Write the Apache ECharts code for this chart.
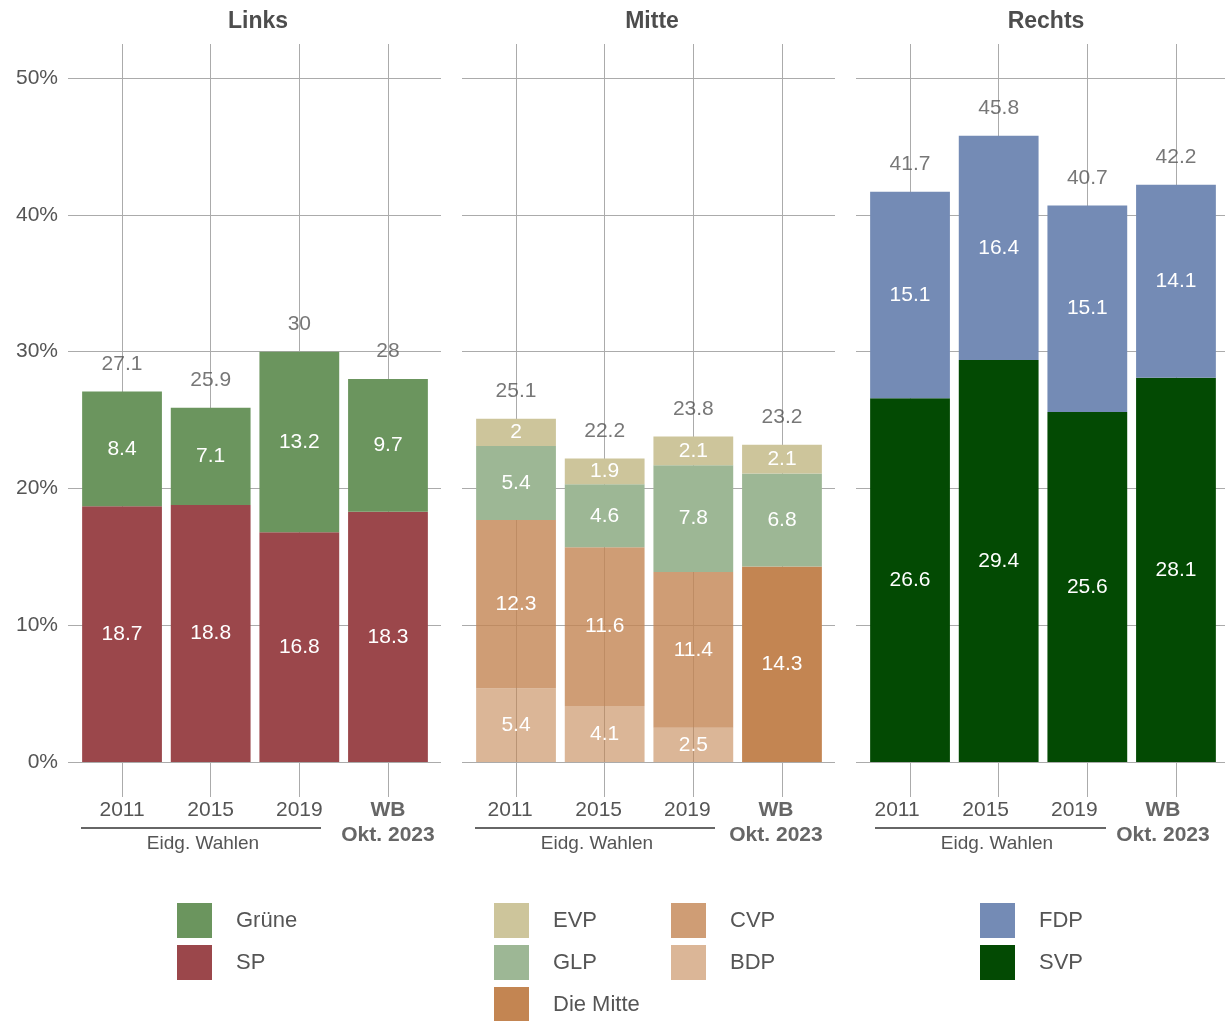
<!DOCTYPE html>
<html>
<head>
<meta charset="utf-8">
<script src="https://cdn.jsdelivr.net/npm/echarts@6/dist/echarts.min.js"></script>
<style>
html,body{margin:0;padding:0;background:#fff;}
#chart{width:1225px;height:1021px;}
</style>
</head>
<body>
<div id="chart"></div>
<script>
// ---- data ----
const categories = ['2011', '2015', '2019', 'WB\nOkt. 2023'];
const panelTitles = ['Links', 'Mitte', 'Rechts'];
const yTicks = [0, 10, 20, 30, 40, 50];

// Links
const sp     = [18.7, 18.8, 16.8, 18.3];
const gruene = [8.4, 7.1, 13.2, 9.7];
const totalLinks = [27.1, 25.9, 30, 28];

// Mitte
const bdp      = [5.4, 4.1, 2.5, '-'];
const cvp      = [12.3, 11.6, 11.4, '-'];
const dieMitte = ['-', '-', '-', 14.3];
const glp      = [5.4, 4.6, 7.8, 6.8];
const evp      = [2, 1.9, 2.1, 2.1];
const totalMitte = [25.1, 22.2, 23.8, 23.2];

// Rechts
const svp = [26.6, 29.4, 25.6, 28.1];
const fdp = [15.1, 16.4, 15.1, 14.1];
const totalRechts = [41.7, 45.8, 40.7, 42.2];

// ---- styling ----
const FONT = "'Liberation Sans', Arial, Helvetica, sans-serif";
const GRID_C = '#ababab';
const TXT = '#555555';
const colors = {
  'Grüne': '#6b955e',
  'SP': '#9b474b',
  'EVP': '#cdc59b',
  'GLP': '#9db795',
  'CVP': 'rgba(195,133,82,0.8)',
  'BDP': 'rgba(195,133,82,0.6)',
  'Die Mitte': '#c38552',
  'FDP': '#748bb5',
  'SVP': '#034a03'
};

const TOP = 44, BOTTOM = 1021 - 762;
const bgLefts = [68, 462, 856];
const bgWidth = 373;
const catOffsets = [0, 6, 13]; // label shift in reference

const grids = [], xAxes = [], yAxes = [], series = [], titles = [];

for (let p = 0; p < 3; p++) {
  grids.push({ left: bgLefts[p], width: bgWidth, top: 78, bottom: BOTTOM, containLabel: false, outerBoundsMode: 'none' });
  grids.push({ left: bgLefts[p] + 9.7, width: 354.6, top: TOP, bottom: BOTTOM, containLabel: false, outerBoundsMode: 'none' });
  const bg = p * 2, bar = p * 2 + 1;
  xAxes.push({ gridIndex: bg, type: 'category', data: categories, show: false });
  yAxes.push({
    gridIndex: bg, type: 'value', min: yTicks[0], max: yTicks[yTicks.length - 1], interval: 10,
    axisLine: { show: false }, axisTick: { show: false },
    splitLine: { show: true, lineStyle: { color: GRID_C, width: 1 } },
    axisLabel: {
      show: p === 0, formatter: '{value}%', color: TXT, fontSize: 21,
      fontFamily: FONT, margin: 10
    }
  });
  xAxes.push({
    gridIndex: bar, type: 'category', data: categories,
    axisLine: { show: false },
    axisTick: { show: true, interval: 0, alignWithLabel: true, length: 35, lineStyle: { color: GRID_C, width: 1 } },
    splitLine: { show: true, interval: 0, alignWithLabel: true, lineStyle: { color: GRID_C, width: 1 } },
    axisLabel: {
      interval: 0, margin: 36, color: TXT, fontFamily: FONT, fontSize: 21, lineHeight: 25,
      padding: [0, catOffsets[p] * 2, 0, 0],
      formatter: function (v) {
        if (v.indexOf('\n') >= 0) {
          return v.split('\n').map(s => '{b|' + s + '}').join('\n');
        }
        return v;
      },
      rich: { b: { fontWeight: 'bold', fontSize: 21, color: '#666666', fontFamily: FONT, lineHeight: 25 } }
    }
  });
  yAxes.push({ gridIndex: bar, type: 'value', min: 0, max: 52.5, show: false, splitLine: { show: false } });
  titles.push({
    text: panelTitles[p], left: bgLefts[p] + 190, top: 10, textAlign: 'center', padding: 0,
    textStyle: { fontFamily: FONT, fontWeight: 'bold', fontSize: 23, color: '#4d4d4d' }
  });
}

function barSeries(name, data, panel, stack) {
  return {
    name: name, type: 'bar', stack: stack, data: data,
    xAxisIndex: panel * 2 + 1, yAxisIndex: panel * 2 + 1,
    barWidth: '90%', z: 3,
    itemStyle: { color: colors[name] },
    label: { show: true, position: 'inside', color: '#ffffff', fontSize: 21, fontFamily: FONT },
    emphasis: { disabled: true }
  };
}
function totalSeries(data, panel) {
  return {
    type: 'scatter', data: data, symbolSize: 0, silent: true, z: 4,
    xAxisIndex: panel * 2 + 1, yAxisIndex: panel * 2 + 1,
    label: { show: true, position: 'top', distance: 17, color: '#555555', fontSize: 21, fontFamily: FONT },
    emphasis: { disabled: true }
  };
}

series.push(barSeries('SP', sp, 0, 'L'));
series.push(barSeries('Grüne', gruene, 0, 'L'));
series.push(totalSeries(totalLinks, 0));

series.push(barSeries('BDP', bdp, 1, 'M'));
series.push(barSeries('CVP', cvp, 1, 'M'));
series.push(barSeries('Die Mitte', dieMitte, 1, 'M'));
series.push(barSeries('GLP', glp, 1, 'M'));
series.push(barSeries('EVP', evp, 1, 'M'));
series.push(totalSeries(totalMitte, 1));

series.push(barSeries('SVP', svp, 2, 'R'));
series.push(barSeries('FDP', fdp, 2, 'R'));
series.push(totalSeries(totalRechts, 2));

function legend(names, left) {
  return {
    data: names, orient: 'vertical', left: left, top: 903, height: 200, padding: 0,
    itemWidth: 35, itemHeight: 35, itemGap: 7, icon: 'rect', selectedMode: false,
    textStyle: { fontFamily: FONT, fontSize: 22, color: TXT, padding: [4, 0, 0, 19] }
  };
}

// "Eidg. Wahlen" bracket annotations
const bracket = [
  { x1: 81, x2: 321, tx: 203 },
  { x1: 475, x2: 715, tx: 597 },
  { x1: 875, x2: 1106, tx: 997 }
];
const graphics = [];
bracket.forEach(b => {
  graphics.push({ type: 'line', shape: { x1: b.x1, y1: 828, x2: b.x2, y2: 828 }, style: { stroke: '#666666', lineWidth: 2 } });
  graphics.push({ type: 'text', x: b.tx, y: 844, style: { text: 'Eidg. Wahlen', fill: TXT, font: '19px ' + FONT, textAlign: 'center', textVerticalAlign: 'middle' } });
});

const chart = echarts.init(document.getElementById('chart'), null, { renderer: 'canvas' });
chart.setOption({
  animation: false,
  backgroundColor: '#ffffff',
  title: titles,
  grid: grids,
  xAxis: xAxes,
  yAxis: yAxes,
  legend: [
    legend(['Grüne', 'SP'], 177),
    legend(['EVP', 'GLP', 'Die Mitte'], 494),
    legend(['CVP', 'BDP'], 671),
    legend(['FDP', 'SVP'], 980)
  ],
  series: series,
  graphic: graphics
});
</script>
</body>
</html>
